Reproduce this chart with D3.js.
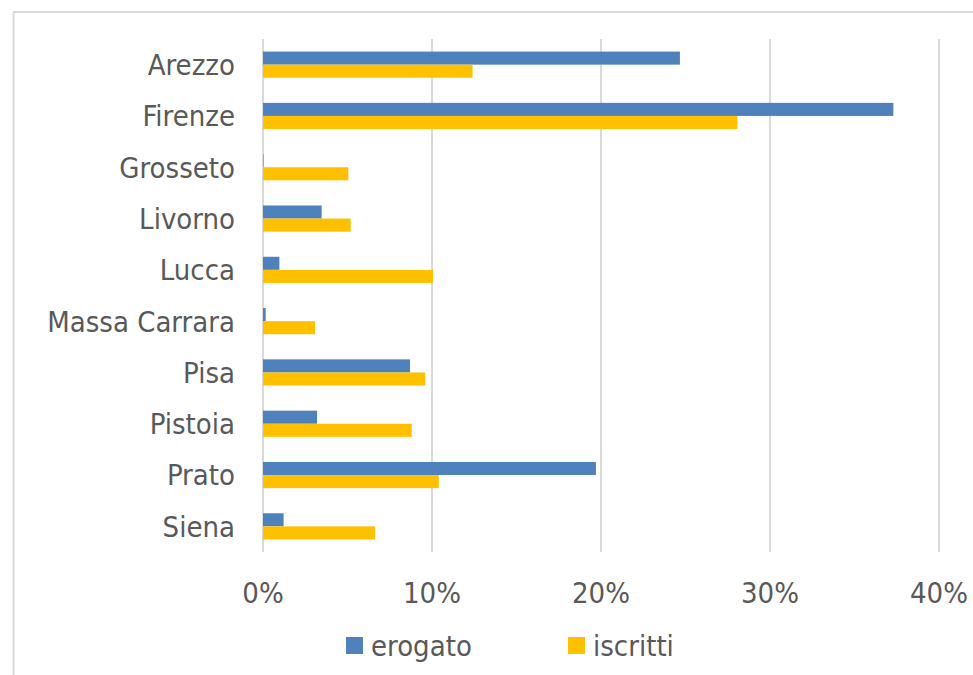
<!DOCTYPE html>
<html>
<head>
<meta charset="utf-8">
<script src="https://cdn.jsdelivr.net/npm/d3@7"></script>
<style>
  body { margin: 0; background: #fff; }
  text { font-family: "DejaVu Sans Condensed", "DejaVu Sans", sans-serif; fill: #595959; }
</style>
</head>
<body>
<script>
// data
const provinces = ['Arezzo', 'Firenze', 'Grosseto', 'Livorno', 'Lucca', 'Massa Carrara', 'Pisa', 'Pistoia', 'Prato', 'Siena'];
const erogato = [0.2467, 0.373, 0.0003, 0.0347, 0.0097, 0.0016, 0.087, 0.032, 0.197, 0.0122];
const iscritti = [0.124, 0.2807, 0.0505, 0.0519, 0.1006, 0.0308, 0.096, 0.088, 0.104, 0.0663];
const ticks = [0, 0.1, 0.2, 0.3, 0.4];
const seriesNames = ['erogato', 'iscritti'];
const colors = ['#4f81bd', '#ffc000'];

const width = 973;
const height = 675;

const svg = d3.select('body')
  .append('svg')
  .attr('width', width)
  .attr('height', height);

// chart border
svg.append('rect')
  .attr('x', 13.5)
  .attr('y', 12)
  .attr('width', 1000)
  .attr('height', 700)
  .attr('fill', 'none')
  .attr('stroke', '#d9d9d9')
  .attr('stroke-width', 2);

const x = d3.scaleLinear().domain([0, 0.4]).range([263, 939]);
const y = d3.scaleBand().domain(provinces).range([39, 552]).paddingInner(0.49).paddingOuter(0.245);
const ySub = d3.scaleBand().domain(seriesNames).range([0, y.bandwidth()]);

// gridlines
svg.append('g')
  .selectAll('line')
  .data(ticks)
  .enter()
  .append('line')
  .attr('x1', (d) => x(d))
  .attr('x2', (d) => x(d))
  .attr('y1', 39)
  .attr('y2', 552)
  .attr('stroke', '#d9d9d9')
  .attr('stroke-width', 2);

// bars
const rows = provinces.map((p, i) => ({ p, vals: [erogato[i], iscritti[i]] }));
const grp = svg.append('g')
  .selectAll('g')
  .data(rows)
  .enter()
  .append('g')
  .attr('transform', (d) => `translate(0,${y(d.p)})`);

grp.selectAll('rect')
  .data((d) => d.vals.map((v, k) => ({ v, k })))
  .enter()
  .append('rect')
  .attr('x', x(0))
  .attr('y', (d) => ySub(seriesNames[d.k]))
  .attr('width', (d) => x(d.v) - x(0))
  .attr('height', ySub.bandwidth())
  .attr('fill', (d) => colors[d.k]);

// category labels
svg.append('g')
  .selectAll('text')
  .data(provinces)
  .enter()
  .append('text')
  .attr('x', 235)
  .attr('y', (d) => y(d) + y.bandwidth() / 2)
  .attr('dy', '0.36em')
  .attr('text-anchor', 'end')
  .style('font-size', '29px')
  .text((d) => d);

// x tick labels
svg.append('g')
  .selectAll('text')
  .data(ticks)
  .enter()
  .append('text')
  .attr('x', (d) => x(d))
  .attr('y', 603)
  .attr('text-anchor', 'middle')
  .style('font-size', '29px')
  .text((d) => d3.format('.0%')(d));

// legend
const legendX = [346, 568];
const leg = svg.append('g')
  .selectAll('g')
  .data(seriesNames)
  .enter()
  .append('g')
  .attr('transform', (d, i) => `translate(${legendX[i]},637)`);
leg.append('rect')
  .attr('width', 17)
  .attr('height', 17)
  .attr('fill', (d, i) => colors[i]);
leg.append('text')
  .attr('x', 25)
  .attr('y', 19)
  .style('font-size', '29px')
  .text((d) => d);
</script>
</body>
</html>
